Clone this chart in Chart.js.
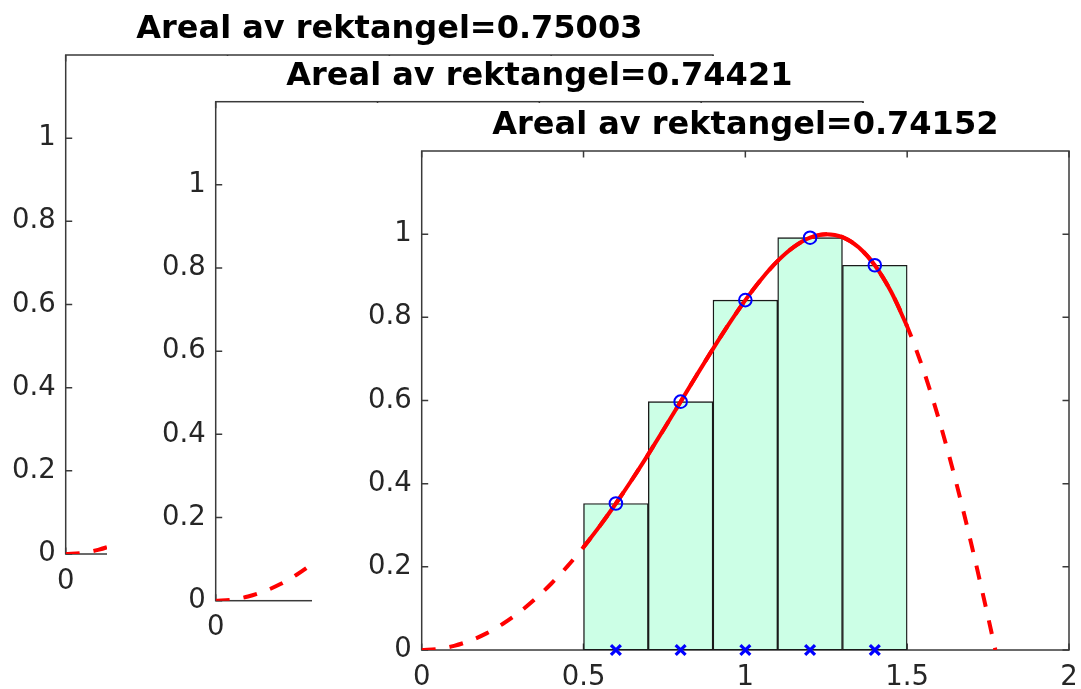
<!DOCTYPE html>
<html>
<head>
<meta charset="utf-8">
<script src="https://cdn.jsdelivr.net/npm/chart.js@4.4.1/dist/chart.umd.min.js"></script>
<style>
  html, body { margin: 0; padding: 0; background: #fff; }
  body { width: 1081px; height: 689px; position: relative; overflow: hidden; }
  canvas { position: absolute; background: #fff; }
</style>
</head>
<body>
<canvas id="p1"></canvas>
<canvas id="p2"></canvas>
<canvas id="p3"></canvas>
<script>
// ---- data ----
const titles = ['Areal av rektangel=0.75003', 'Areal av rektangel=0.74421', 'Areal av rektangel=0.74152'];
const xTicks = [0, 0.5, 1, 1.5, 2];
const yTicks = [0, 0.2, 0.4, 0.6, 0.8, 1];

// f(x) sampled along [0, 1.7725]
const curveX = [0, 0.05, 0.1, 0.15, 0.2, 0.25, 0.3, 0.35, 0.4, 0.45, 0.5, 0.55, 0.6, 0.65, 0.7, 0.75,
  0.8, 0.85, 0.9, 0.95, 1, 1.05, 1.1, 1.15, 1.2, 1.25, 1.3, 1.35, 1.4, 1.45, 1.5, 1.55, 1.6, 1.65,
  1.7, 1.75, 1.7725];
const curveY = [0, 0.0025, 0.0100, 0.0225, 0.0400, 0.0625, 0.0899, 0.1222, 0.1593, 0.2011, 0.2474,
  0.2979, 0.3523, 0.4100, 0.4706, 0.5333, 0.5972, 0.6613, 0.7243, 0.7849, 0.8415, 0.8923, 0.9356,
  0.9693, 0.9915, 1.0000, 0.9929, 0.9685, 0.9252, 0.8620, 0.7781, 0.6736, 0.5494, 0.4069, 0.2489,
  0.0790, 0];

// integration interval and midpoint rectangles
const intervalStart = 0.5;
const intervalEnd = 1.5;
const midX = [0.6, 0.8, 1.0, 1.2, 1.4];
const midY = [0.3523, 0.5972, 0.8415, 0.9915, 0.9252];

// ---- layout (page pixels) ----
const PAGE_W = 1081, PAGE_H = 689;
const SPARE = 80; // canvases run past the page edge so edge labels never squeeze the plot box
const AREA_W = 647.3, AREA_H = 499;
const panels = [
  { id: 'p1', canvasLeft: 0,   canvasTop: 0,   areaLeft: 65.7,  areaTop: 55,    full: false },
  { id: 'p2', canvasLeft: 107, canvasTop: 56,  areaLeft: 215.7, areaTop: 101.7, full: false },
  { id: 'p3', canvasLeft: 312, canvasTop: 103, areaLeft: 421.7, areaTop: 151,   full: true }
];

const FONT = "'DejaVu Sans', 'Liberation Sans', sans-serif";
const AXIS_COLOR = '#3a3a3a';
const TEXT_COLOR = '#262626';
const TICK_LEN = 6.5;
const TICK_FONT = 27.5;
const TITLE_SIZE = 32;
const TITLE_GAP = 9.5;

const pts = (xs, ys) => xs.map((x, i) => ({ x, y: ys[i] }));
const curveAll = pts(curveX, curveY);
const curveInside = curveAll.filter(p => p.x >= intervalStart - 1e-9 && p.x <= intervalEnd + 1e-9);

// box with inward tick marks on all four sides
const frame = {
  id: 'frame',
  beforeDatasetsDraw(chart) {
    const { ctx, chartArea: a } = chart;
    const xs = chart.scales.x, ys = chart.scales.y;
    ctx.save();
    ctx.strokeStyle = AXIS_COLOR;
    ctx.lineWidth = 1.5;
    ctx.strokeRect(a.left, a.top, a.right - a.left, a.bottom - a.top);
    ctx.beginPath();
    xTicks.forEach(v => {
      const px = xs.getPixelForValue(v);
      ctx.moveTo(px, a.bottom); ctx.lineTo(px, a.bottom - TICK_LEN);
      ctx.moveTo(px, a.top); ctx.lineTo(px, a.top + TICK_LEN);
    });
    yTicks.forEach(v => {
      const py = ys.getPixelForValue(v);
      ctx.moveTo(a.left, py); ctx.lineTo(a.left + TICK_LEN, py);
      ctx.moveTo(a.right, py); ctx.lineTo(a.right - TICK_LEN, py);
    });
    ctx.stroke();
    ctx.restore();
  }
};

panels.forEach((p, idx) => {
  const cv = document.getElementById(p.id);
  const w = PAGE_W - p.canvasLeft + SPARE, h = PAGE_H - p.canvasTop + SPARE;
  cv.width = w; cv.height = h;
  cv.style.left = p.canvasLeft + 'px';
  cv.style.top = p.canvasTop + 'px';

  const left = p.areaLeft - p.canvasLeft;
  const top = p.areaTop - p.canvasTop;
  const right = left + AREA_W;
  const bottom = top + AREA_H;

  const datasets = [];
  if (p.full) {
    datasets.push({
      type: 'bar', data: pts(midX, midY), order: 5,
      backgroundColor: 'rgb(204,255,230)', borderColor: '#1a1a1a', borderWidth: 1.4,
      borderSkipped: false, barPercentage: 1, categoryPercentage: 1
    });
  }
  datasets.push({
    type: 'line', data: curveAll, order: 4,
    borderColor: '#ff0000', borderWidth: 4, borderDash: [14, 14],
    pointRadius: 0, cubicInterpolationMode: 'monotone', fill: false
  });
  if (p.full) {
    datasets.push({
      type: 'line', data: curveInside, order: 3,
      borderColor: '#ff0000', borderWidth: 4,
      pointRadius: 0, cubicInterpolationMode: 'monotone', fill: false
    });
    datasets.push({
      type: 'scatter', data: pts(midX, midY), order: 2, clip: false,
      pointStyle: 'circle', pointRadius: 6.3, borderColor: '#0000ff', borderWidth: 2,
      backgroundColor: 'rgba(0,0,0,0)'
    });
    datasets.push({
      type: 'scatter', data: midX.map(x => ({ x, y: 0 })), order: 1, clip: false,
      pointStyle: 'crossRot', pointRadius: 7, borderColor: '#0000ff', borderWidth: 3.2,
      backgroundColor: '#0000ff'
    });
  }

  new Chart(cv, {
    type: 'scatter',
    data: { datasets },
    plugins: [frame],
    options: {
      responsive: false,
      animation: false,
      events: [],
      layout: { padding: { left: 0, top: top - TITLE_SIZE - TITLE_GAP, right: w - right, bottom: 0 } },
      plugins: {
        legend: { display: false },
        tooltip: { enabled: false },
        title: {
          display: true, text: titles[idx], fullSize: false, color: '#000',
          font: { family: FONT, size: TITLE_SIZE, weight: 'bold', lineHeight: 1 },
          padding: { top: 0, bottom: TITLE_GAP }
        }
      },
      scales: {
        x: {
          type: 'linear', min: 0, max: 2, offset: false,
          afterBuildTicks: s => { s.ticks = xTicks.map(v => ({ value: v })); },
          afterFit: s => { s.height = h - bottom; },
          grid: { display: false, drawTicks: false },
          border: { display: false },
          ticks: { color: TEXT_COLOR, font: { family: FONT, size: TICK_FONT }, padding: 11, maxRotation: 0,
                   autoSkip: false, callback: v => String(v) }
        },
        y: {
          type: 'linear', min: 0, max: 1.2,
          afterBuildTicks: s => { s.ticks = yTicks.map(v => ({ value: v })); },
          afterFit: s => { s.width = left; },
          grid: { display: false, drawTicks: false },
          border: { display: false },
          ticks: { color: TEXT_COLOR, font: { family: FONT, size: TICK_FONT }, padding: 10,
                   autoSkip: false, callback: v => String(v) }
        }
      }
    }
  });
});
</script>
</body>
</html>
